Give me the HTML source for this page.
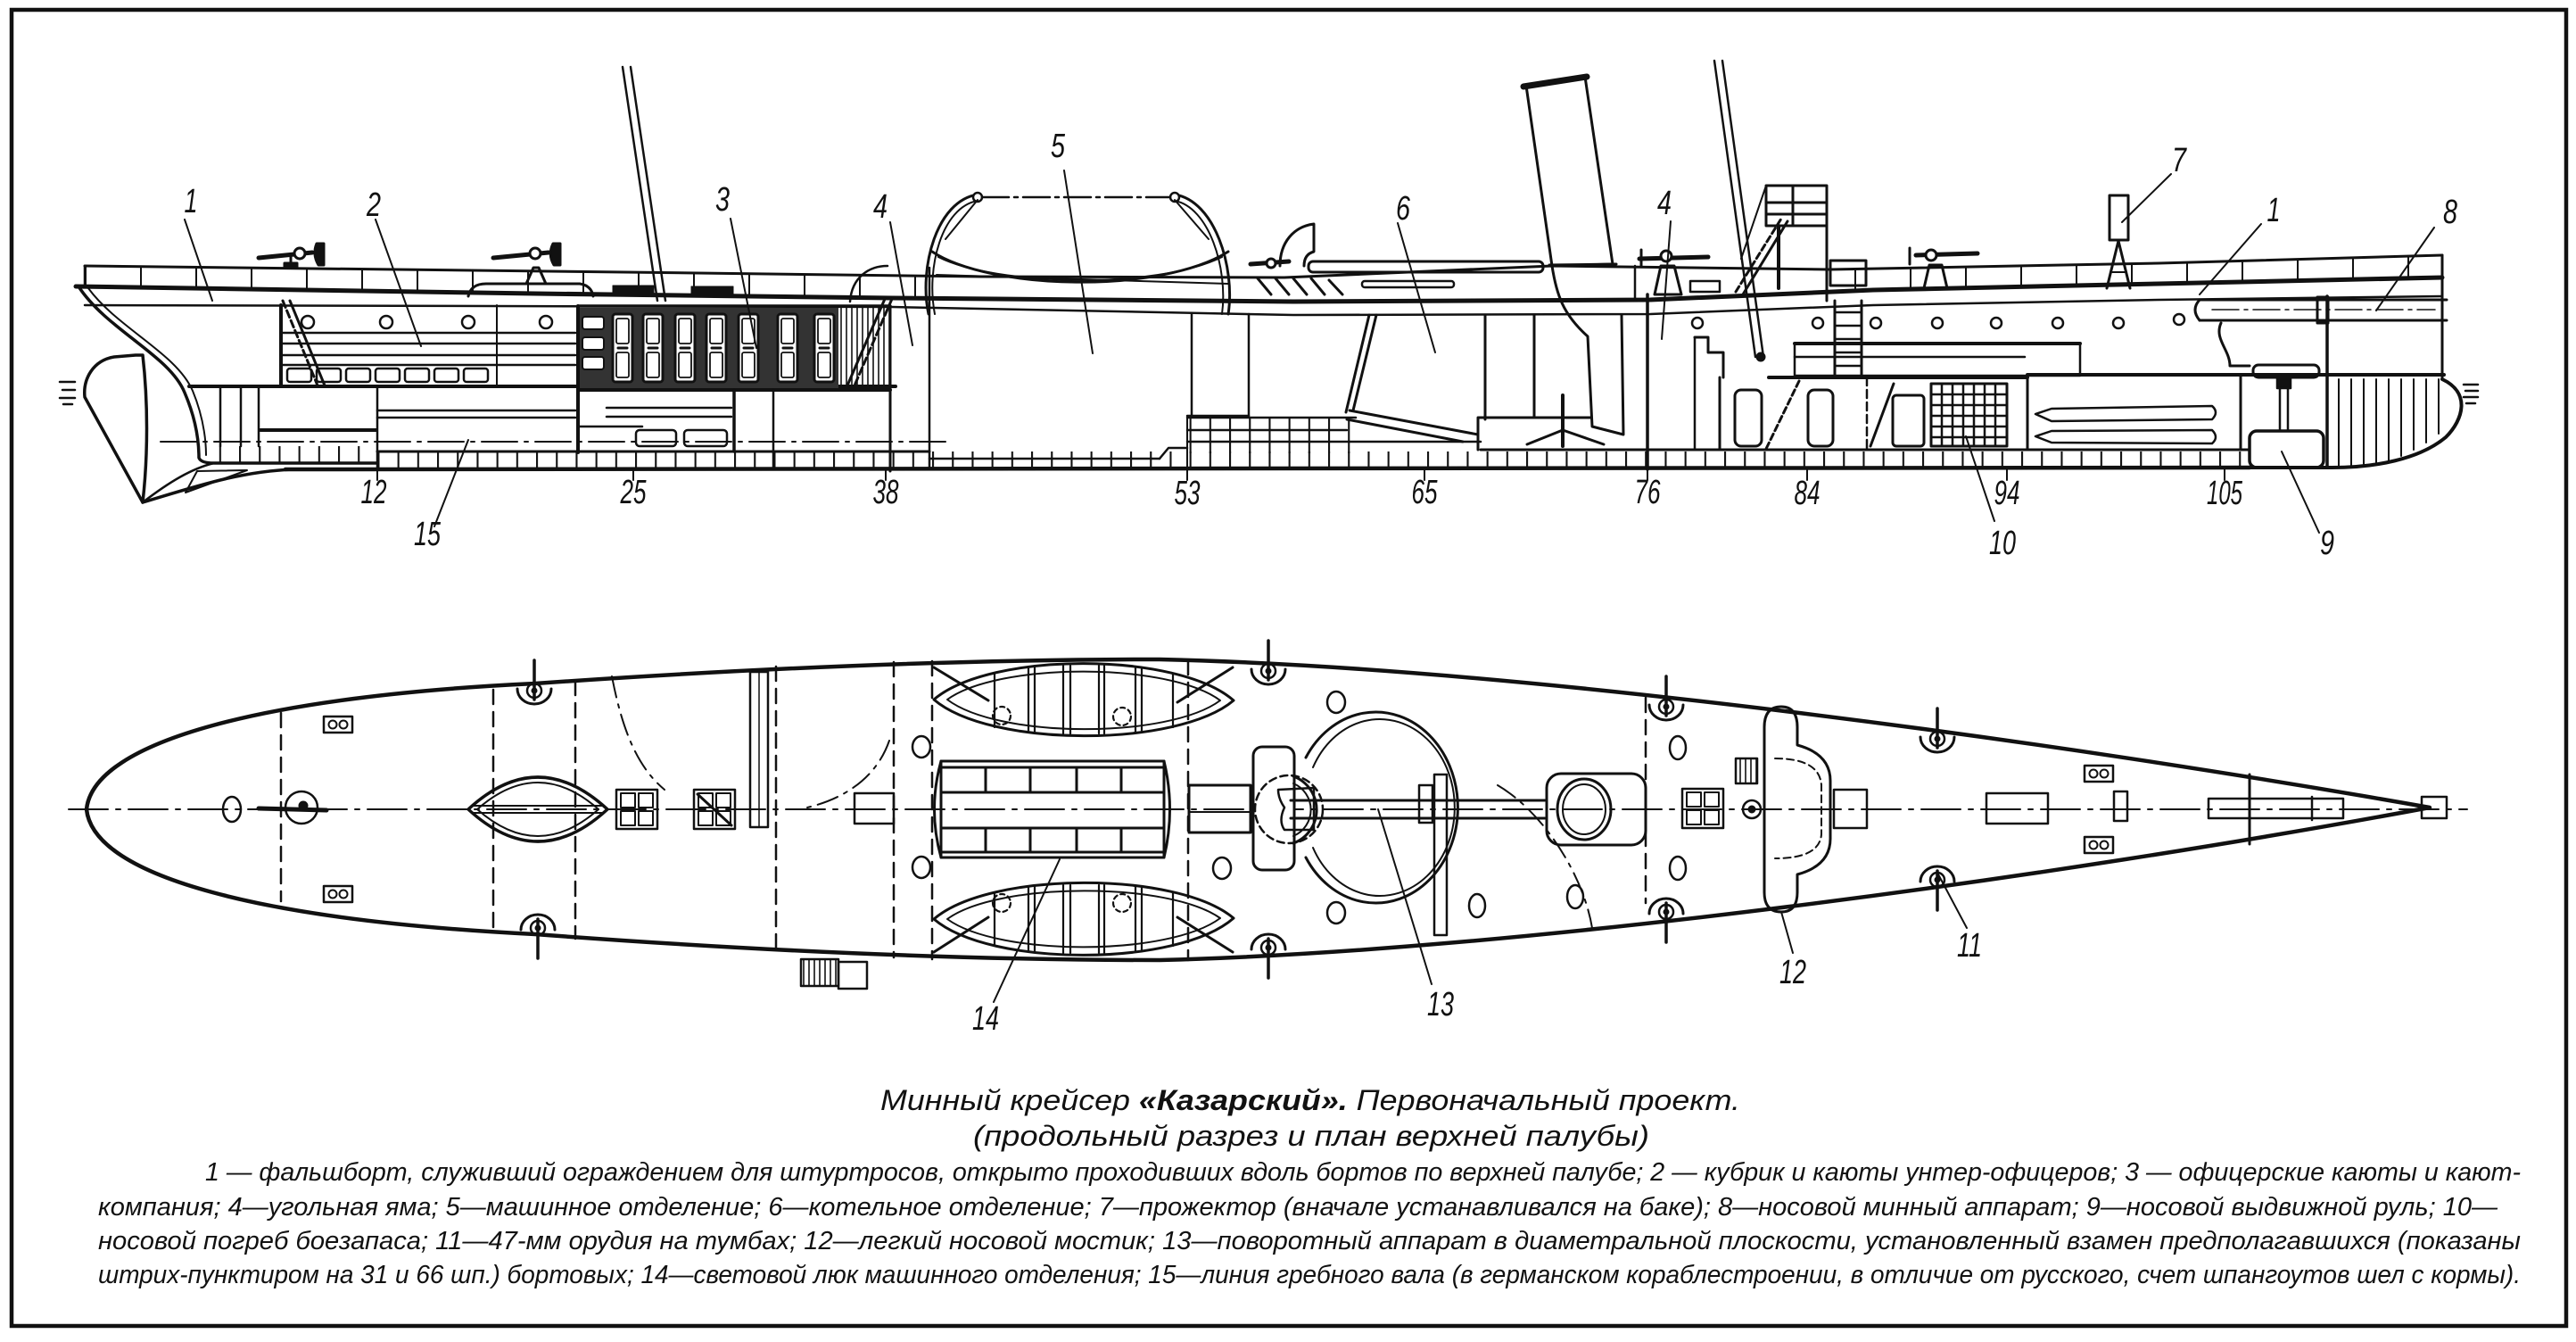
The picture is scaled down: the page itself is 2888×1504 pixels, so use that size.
<!DOCTYPE html>
<html><head><meta charset="utf-8">
<style>
html,body{margin:0;padding:0;background:#fff;}
svg{display:block;}
</style></head><body>
<svg width="2888" height="1504" viewBox="0 0 2888 1504" xmlns="http://www.w3.org/2000/svg">
<defs>
<pattern id="fr" x="157" y="0" width="22.2" height="10" patternUnits="userSpaceOnUse">
<line x1="1" y1="0" x2="1" y2="10" stroke="#111" stroke-width="2.2"/>
</pattern>
<pattern id="stan" x="95" y="0" width="62" height="10" patternUnits="userSpaceOnUse">
<line x1="1" y1="0" x2="1" y2="10" stroke="#111" stroke-width="2"/>
</pattern>
<pattern id="vh" x="0" y="0" width="6" height="10" patternUnits="userSpaceOnUse">
<line x1="1" y1="0" x2="1" y2="10" stroke="#111" stroke-width="1.6"/>
</pattern>
<g id="door">
<rect x="0" y="0" width="22" height="76" rx="3" fill="#fff" stroke="#111" stroke-width="3"/>
<rect x="4" y="5" width="14" height="28" rx="2" fill="#fff" stroke="#111" stroke-width="1.8"/>
<rect x="4" y="43" width="14" height="28" rx="2" fill="#fff" stroke="#111" stroke-width="1.8"/>
<line x1="6" y1="38" x2="16" y2="38" stroke="#111" stroke-width="3"/>
</g>
<g id="gunT">
<path d="M-19,0 A19,17 0 0 0 19,0" fill="none" stroke="#111" stroke-width="3"/>
<circle cx="0" cy="2" r="8" fill="none" stroke="#111" stroke-width="2.5"/>
<circle cx="0" cy="2" r="3" fill="#111"/>
<line x1="0" y1="-32" x2="0" y2="12" stroke="#111" stroke-width="3.5"/>
</g>
<g id="oo">
<rect x="0" y="0" width="32" height="18" fill="none" stroke="#111" stroke-width="2.5"/>
<circle cx="10" cy="9" r="4.5" fill="none" stroke="#111" stroke-width="2"/>
<circle cx="22" cy="9" r="4.5" fill="none" stroke="#111" stroke-width="2"/>
</g>
<g id="sq4">
<rect x="0" y="0" width="46" height="44" fill="none" stroke="#111" stroke-width="2.5"/>
<rect x="5" y="4" width="16" height="16" fill="none" stroke="#111" stroke-width="2"/>
<rect x="25" y="4" width="16" height="16" fill="none" stroke="#111" stroke-width="2"/>
<rect x="5" y="24" width="16" height="16" fill="none" stroke="#111" stroke-width="2"/>
<rect x="25" y="24" width="16" height="16" fill="none" stroke="#111" stroke-width="2"/>
</g>
</defs>
<rect width="2888" height="1504" fill="#fff"/>
<rect x="13" y="11" width="2864" height="1475" fill="none" stroke="#111" stroke-width="4.5"/>

<!-- ================= SIDE VIEW ================= -->
<g stroke="#111" fill="none" stroke-linecap="round" stroke-linejoin="round">
<line x1="698" y1="75" x2="737" y2="337" stroke-width="2.5"/>
<line x1="707" y1="75" x2="746" y2="337" stroke-width="2.5"/>
<line x1="1922" y1="68" x2="1968" y2="400" stroke-width="2.5"/>
<line x1="1931" y1="68" x2="1977" y2="400" stroke-width="2.5"/>
<circle cx="1974" cy="400" r="5" fill="#111"/>
<polygon points="1711,96 1777,86 1808,296 1740,298" stroke-width="3"/>
<line x1="1708" y1="97" x2="1779" y2="86" stroke-width="7"/>
<path d="M1740,298 C1745,330 1752,352 1780,377 L1785,478 L1820,487 L1818,353" stroke-width="3"/>

<polygon points="95,299 1040,309 1040,333 88,321" fill="url(#stan)" stroke="none"/>
<polygon points="2052,302 2420,295 2738,287 2738,311 2420,318 2052,326" fill="url(#stan)" stroke="none"/>
<polyline points="95,298 700,305 1100,310 1440,311 1740,298 2052,302 2420,295 2738,286" stroke-width="3"/>
<polyline points="85,321 600,329 1000,334 1450,338 1850,336 2100,325 2420,318 2738,311" stroke-width="5"/>
<polyline points="95,342 1000,344 1450,353 1850,352 2100,342 2420,336 2738,332" stroke-width="2.5"/>
<line x1="95" y1="298" x2="95" y2="321" stroke-width="2.5"/>

<path d="M88,321 C120,370 190,398 207,440 C222,475 223,500 223,513 Q225,519 240,519 L423,519" stroke-width="3.5"/>
<path d="M99,323 C132,368 198,396 216,438 C230,472 231,500 231,510" stroke-width="2"/>
<path d="M152,398 L128,400 C104,404 93,425 95,445 L160,563 C166,510 166,450 160,398 Z" stroke-width="3.5"/>
<path d="M160,563 C220,545 270,528 330,526" stroke-width="3.5"/>
<path d="M160,563 C190,540 215,525 240,519" stroke-width="2.5"/>
<polygon points="208,552 221,528 277,527" stroke-width="2"/>
<g stroke-width="2.5"><line x1="67" y1="428" x2="84" y2="428"/><line x1="70" y1="437" x2="84" y2="437"/><line x1="67" y1="446" x2="84" y2="446"/><line x1="71" y1="453" x2="81" y2="453"/></g>

<line x1="320" y1="526" x2="2522" y2="524" stroke-width="4.5"/>
<rect x="240" y="500" width="183" height="19" fill="url(#fr)" stroke="none"/>
<rect x="423" y="506" width="2099" height="19" fill="url(#fr)" stroke="none"/>
<line x1="423" y1="506" x2="1042" y2="506" stroke-width="3"/>
<line x1="1331" y1="466" x2="1331" y2="526" stroke-width="2"/>
<rect x="1331" y="468" width="190" height="40" fill="url(#fr)" stroke="none"/>
<line x1="1331" y1="468" x2="1520" y2="468" stroke-width="2.5"/>
<line x1="1331" y1="482" x2="1510" y2="482" stroke-width="2.5"/>
<line x1="1331" y1="495" x2="1660" y2="495" stroke-width="2.5"/>
<line x1="1660" y1="504" x2="2522" y2="504" stroke-width="3"/>
<g stroke-width="2"><line x1="423" y1="526" x2="423" y2="538"/><line x1="710" y1="526" x2="710" y2="538"/><line x1="993" y1="526" x2="993" y2="538"/><line x1="1331" y1="526" x2="1331" y2="538"/><line x1="1597" y1="526" x2="1597" y2="538"/><line x1="1847" y1="526" x2="1847" y2="538"/><line x1="2026" y1="526" x2="2026" y2="538"/><line x1="2250" y1="526" x2="2250" y2="538"/><line x1="2494" y1="526" x2="2494" y2="538"/></g>

<line x1="212" y1="433" x2="1004" y2="433" stroke-width="4"/>
<line x1="648" y1="437" x2="998" y2="437" stroke-width="4"/>
<g stroke-width="2.5">
<line x1="247" y1="433" x2="247" y2="500"/><line x1="270" y1="433" x2="270" y2="500"/><line x1="290" y1="433" x2="290" y2="500"/>
<line x1="292" y1="482" x2="422" y2="482" stroke-width="4"/>
<line x1="423" y1="433" x2="423" y2="526"/>
<line x1="423" y1="460" x2="645" y2="460"/><line x1="423" y1="468" x2="645" y2="468"/>
<line x1="648" y1="343" x2="648" y2="507" stroke-width="4"/>
<line x1="680" y1="457" x2="820" y2="457"/><line x1="680" y1="467" x2="820" y2="467"/><line x1="648" y1="478" x2="720" y2="478"/>
<rect x="713" y="482" width="45" height="18" rx="4"/><rect x="767" y="482" width="48" height="18" rx="4"/>
<line x1="823" y1="437" x2="823" y2="506" stroke-width="3.5"/>
<line x1="867" y1="437" x2="867" y2="526"/>
<line x1="998" y1="343" x2="998" y2="528" stroke-width="3"/>
<line x1="1042" y1="300" x2="1042" y2="526" stroke-width="2.5"/>
<line x1="1042" y1="514" x2="1300" y2="514" stroke-width="2.5"/>
<polyline points="1300,514 1310,502 1331,502" stroke-width="2.5"/>
<line x1="1336" y1="352" x2="1336" y2="466"/>
<line x1="1400" y1="352" x2="1400" y2="466"/>
<line x1="1331" y1="466" x2="1400" y2="466"/>
</g>
<line x1="180" y1="495" x2="1068" y2="495" stroke-width="2" stroke-dasharray="40 8 4 8"/>

<line x1="315" y1="342" x2="315" y2="433" stroke-width="4"/>
<line x1="557" y1="342" x2="557" y2="433" stroke-width="2"/>
<g stroke-width="2.5">
<circle cx="345" cy="361" r="7"/><circle cx="433" cy="361" r="7"/><circle cx="525" cy="361" r="7"/><circle cx="612" cy="361" r="7"/>
<line x1="315" y1="373" x2="645" y2="373"/><line x1="315" y1="385" x2="645" y2="385"/><line x1="315" y1="398" x2="645" y2="398"/><line x1="315" y1="409" x2="645" y2="409"/>
<rect x="322" y="413" width="27" height="15" rx="3"/><rect x="355" y="413" width="27" height="15" rx="3"/><rect x="388" y="413" width="27" height="15" rx="3"/><rect x="421" y="413" width="27" height="15" rx="3"/><rect x="454" y="413" width="27" height="15" rx="3"/><rect x="487" y="413" width="27" height="15" rx="3"/><rect x="520" y="413" width="27" height="15" rx="3"/>
</g>
<line x1="317" y1="337" x2="356" y2="432" stroke-width="3" stroke-dasharray="8 4"/>
<line x1="325" y1="337" x2="364" y2="432" stroke-width="3"/>

<rect x="650" y="345" width="290" height="90" fill="#333" stroke="none"/>
<rect x="653" y="355" width="24" height="14" rx="3" fill="#fff" stroke-width="2"/>
<rect x="653" y="378" width="24" height="14" rx="3" fill="#fff" stroke-width="2"/>
<rect x="653" y="400" width="24" height="14" rx="3" fill="#fff" stroke-width="2"/>
<use href="#door" x="687" y="352"/><use href="#door" x="721" y="352"/><use href="#door" x="757" y="352"/><use href="#door" x="792" y="352"/><use href="#door" x="828" y="352"/><use href="#door" x="872" y="352"/><use href="#door" x="913" y="352"/>
<rect x="940" y="345" width="58" height="90" fill="url(#vh)" stroke="none"/>
<line x1="1000" y1="335" x2="958" y2="432" stroke-width="3" stroke-dasharray="8 4"/>
<line x1="992" y1="335" x2="950" y2="432" stroke-width="3"/>
<line x1="648" y1="343" x2="998" y2="343" stroke-width="3.5"/>
<rect x="687" y="320" width="46" height="12" fill="#111"/>
<rect x="775" y="321" width="47" height="11" fill="#111"/>
<path d="M525,332 Q528,318 545,318 L650,318 Q663,320 665,332" stroke-width="3"/>
<path d="M953,338 C955,310 975,298 995,298" stroke-width="2.5"/>

<g stroke-width="3">
<line x1="290" y1="289" x2="350" y2="283" stroke-width="5"/><circle cx="336" cy="284" r="6" fill="#fff"/><path d="M355,273 Q350,285 357,297 L363,297 L363,273 Z" fill="#111"/><line x1="326" y1="288" x2="326" y2="299"/><rect x="319" y="295" width="14" height="5" fill="#111"/>
<line x1="553" y1="289" x2="615" y2="283" stroke-width="5"/><circle cx="600" cy="284" r="6" fill="#fff"/><path d="M620,273 Q614,285 621,297 L628,297 L628,273 Z" fill="#111"/><path d="M598,300 L590,318 L612,318 L604,300 Z"/>
<line x1="1402" y1="296" x2="1445" y2="293" stroke-width="5"/><circle cx="1425" cy="295" r="5" fill="#fff"/>
<line x1="1838" y1="290" x2="1915" y2="288" stroke-width="5"/><circle cx="1868" cy="287" r="6" fill="#fff"/><path d="M1840,280 L1840,298" /><path d="M1862,298 L1855,330 L1885,330 L1877,298 Z"/>
<line x1="2148" y1="286" x2="2217" y2="284" stroke-width="5"/><circle cx="2165" cy="286" r="6" fill="#fff"/><path d="M2141,278 L2141,296"/><path d="M2163,297 L2157,323 L2183,323 L2177,297 Z"/>
</g>
<path d="M1435,298 C1435,272 1450,254 1473,251 L1473,282 Q1462,285 1462,298" stroke-width="3"/>
<rect x="1467" y="293" width="263" height="12" rx="5" stroke-width="3"/>
<rect x="1527" y="315" width="103" height="7" rx="3" stroke-width="2.5"/>
<g stroke-width="3"><line x1="1410" y1="312" x2="1425" y2="330"/><line x1="1430" y1="312" x2="1445" y2="330"/><line x1="1450" y1="312" x2="1465" y2="330"/><line x1="1470" y1="312" x2="1485" y2="330"/><line x1="1490" y1="314" x2="1505" y2="330"/></g>
<line x1="1737" y1="297" x2="1812" y2="296" stroke-width="3"/>
<line x1="1833" y1="298" x2="1833" y2="337" stroke-width="2.5"/>
<rect x="1895" y="315" width="33" height="12" stroke-width="2.5"/>

<path d="M1041,352 C1030,300 1050,225 1096,218" stroke-width="3"/>
<path d="M1048,352 C1038,300 1056,232 1096,225" stroke-width="2"/>
<path d="M1317,218 C1362,225 1385,300 1377,352" stroke-width="3"/>
<path d="M1317,225 C1355,232 1377,300 1370,352" stroke-width="2"/>
<circle cx="1096" cy="221" r="5" fill="#fff" stroke-width="2.5"/><circle cx="1317" cy="221" r="5" fill="#fff" stroke-width="2.5"/>
<line x1="1101" y1="221" x2="1312" y2="221" stroke-width="2.5" stroke-dasharray="30 6 4 6"/>
<path d="M1045,282 C1110,325 1300,330 1377,282" stroke-width="3"/>
<path d="M1052,288 C1115,320 1295,325 1370,288" stroke-width="2"/>
<line x1="1096" y1="224" x2="1060" y2="268" stroke-width="2"/><line x1="1317" y1="224" x2="1355" y2="268" stroke-width="2"/>
<line x1="1050" y1="308" x2="1377" y2="318" stroke-width="2"/>

<g stroke-width="3">
<line x1="1543" y1="353" x2="1517" y2="460"/><line x1="1535" y1="353" x2="1509" y2="462"/>
<line x1="1513" y1="460" x2="1657" y2="487"/><line x1="1510" y1="470" x2="1640" y2="495"/>
<line x1="1665" y1="353" x2="1665" y2="470"/><line x1="1720" y1="353" x2="1720" y2="468"/>
<line x1="1658" y1="468" x2="1783" y2="468"/>
<line x1="1657" y1="468" x2="1657" y2="504"/>
<line x1="1847" y1="330" x2="1847" y2="526" stroke-width="3.5"/>
<line x1="1752" y1="443" x2="1752" y2="500" stroke-width="4"/>
<polyline points="1712,498 1752,482 1798,498"/>
</g>

<g stroke-width="3">
<rect x="1980" y="208" width="68" height="45"/>
<line x1="1980" y1="227" x2="2048" y2="227"/><line x1="1980" y1="240" x2="2048" y2="240"/><line x1="2010" y1="208" x2="2010" y2="253"/>
<line x1="1994" y1="253" x2="1994" y2="323" stroke-width="4"/>
<line x1="2048" y1="253" x2="2048" y2="337"/>
<rect x="2052" y="292" width="40" height="28"/>
<line x1="1946" y1="327" x2="1997" y2="245" stroke-dasharray="7 4"/>
<line x1="1954" y1="330" x2="2004" y2="248"/>
<line x1="1980" y1="208" x2="1952" y2="290" stroke-width="2"/>
</g>
<rect x="2365" y="219" width="21" height="50" stroke-width="3"/>
<polyline points="2362,323 2375,270 2388,323" stroke-width="3"/>
<line x1="2366" y1="305" x2="2384" y2="305" stroke-width="2"/>

<g stroke-width="2.5">
<circle cx="1903" cy="362" r="6"/><circle cx="2038" cy="362" r="6"/><circle cx="2103" cy="362" r="6"/><circle cx="2172" cy="362" r="6"/><circle cx="2238" cy="362" r="6"/><circle cx="2307" cy="362" r="6"/><circle cx="2375" cy="362" r="6"/><circle cx="2443" cy="358" r="6"/>
<polyline points="1900,378 1915,378 1915,395 1932,395 1932,423" stroke-width="3"/>
<line x1="1900" y1="378" x2="1900" y2="504"/>
<line x1="1928" y1="423" x2="1928" y2="504" stroke-width="3"/>
<rect x="2012" y="385" width="320" height="36" stroke-width="2.5"/>
<line x1="2012" y1="385" x2="2332" y2="385" stroke-width="4"/>
<line x1="2012" y1="400" x2="2270" y2="400"/>
<line x1="2057" y1="337" x2="2057" y2="423" stroke-width="3"/><line x1="2087" y1="337" x2="2087" y2="423" stroke-width="3"/>
<line x1="2057" y1="350" x2="2087" y2="350"/><line x1="2057" y1="365" x2="2087" y2="365"/><line x1="2057" y1="380" x2="2087" y2="380"/><line x1="2057" y1="395" x2="2087" y2="395"/><line x1="2057" y1="410" x2="2087" y2="410"/>
<line x1="1983" y1="423" x2="2273" y2="423" stroke-width="4"/>
<line x1="2273" y1="420" x2="2740" y2="420" stroke-width="4"/>
<line x1="2273" y1="420" x2="2273" y2="504" stroke-width="3"/>
<rect x="1945" y="437" width="30" height="63" rx="7" stroke-width="3"/>
<rect x="2027" y="437" width="28" height="63" rx="7" stroke-width="3"/>
<rect x="2122" y="443" width="35" height="57" rx="4" stroke-width="3"/>
<line x1="2017" y1="427" x2="1980" y2="503" stroke-dasharray="7 4" stroke-width="3"/>
<line x1="2123" y1="430" x2="2097" y2="500" stroke-width="3"/>
<line x1="2093" y1="423" x2="2093" y2="505" stroke-dasharray="9 5" stroke-width="2.5"/>
<rect x="2165" y="430" width="85" height="70" stroke-width="3"/>
<line x1="2177" y1="430" x2="2177" y2="500"/><line x1="2189" y1="430" x2="2189" y2="500"/><line x1="2201" y1="430" x2="2201" y2="500"/><line x1="2213" y1="430" x2="2213" y2="500"/><line x1="2225" y1="430" x2="2225" y2="500"/><line x1="2237" y1="430" x2="2237" y2="500"/>
<line x1="2165" y1="442" x2="2250" y2="442"/><line x1="2165" y1="454" x2="2250" y2="454"/><line x1="2165" y1="466" x2="2250" y2="466"/><line x1="2165" y1="478" x2="2250" y2="478"/><line x1="2165" y1="490" x2="2250" y2="490"/>
<path d="M2282,464 L2300,458 L2480,455 Q2488,462 2480,470 L2300,472 Z" stroke-width="2.5"/>
<path d="M2282,489 L2300,483 L2480,482 Q2488,490 2480,497 L2300,496 Z" stroke-width="2.5"/>
<line x1="2512" y1="420" x2="2512" y2="504" stroke-width="3"/>
<rect x="2522" y="483" width="83" height="41" rx="8" stroke-width="3.5"/>
<line x1="2556" y1="420" x2="2556" y2="483" stroke-width="2.5"/><line x1="2565" y1="420" x2="2565" y2="483" stroke-width="2.5"/>
<rect x="2553" y="423" width="15" height="12" fill="#111"/>
<line x1="2609" y1="332" x2="2609" y2="524" stroke-width="3.5"/>
</g>
<g stroke-width="3">
<line x1="2466" y1="336" x2="2743" y2="336"/><line x1="2466" y1="359" x2="2743" y2="359"/>
<path d="M2466,336 Q2456,347 2466,359"/>
<rect x="2598" y="333" width="12" height="29"/>
<line x1="2480" y1="347" x2="2730" y2="347" stroke-width="1.5" stroke-dasharray="30 6 4 6"/>
<path d="M2490,362 C2482,380 2500,392 2500,410 L2522,410"/>
<rect x="2526" y="409" width="74" height="14" rx="6"/>
</g>
<line x1="2738" y1="286" x2="2738" y2="425" stroke-width="3"/>
<path d="M2738,425 C2770,440 2762,470 2742,490 C2712,515 2662,524 2614,524 L2522,524" stroke-width="4"/>
<g stroke-width="2">
<line x1="2622" y1="425" x2="2622" y2="523"/><line x1="2636" y1="425" x2="2636" y2="522"/><line x1="2650" y1="425" x2="2650" y2="521"/><line x1="2664" y1="425" x2="2664" y2="519"/><line x1="2678" y1="425" x2="2678" y2="516"/><line x1="2692" y1="425" x2="2692" y2="511"/><line x1="2706" y1="425" x2="2706" y2="504"/><line x1="2720" y1="425" x2="2720" y2="496"/><line x1="2734" y1="425" x2="2734" y2="486"/>
</g>
<g stroke-width="2.5"><line x1="2762" y1="431" x2="2778" y2="431"/><line x1="2764" y1="438" x2="2778" y2="438"/><line x1="2762" y1="445" x2="2778" y2="445"/><line x1="2765" y1="452" x2="2775" y2="452"/></g>

<g stroke-width="2">
<line x1="207" y1="246" x2="238" y2="337"/>
<line x1="421" y1="246" x2="472" y2="388"/>
<line x1="819" y1="245" x2="848" y2="390"/>
<line x1="998" y1="249" x2="1023" y2="387"/>
<line x1="1193" y1="191" x2="1225" y2="396"/>
<line x1="1567" y1="250" x2="1609" y2="395"/>
<line x1="1873" y1="248" x2="1863" y2="380"/>
<line x1="2434" y1="195" x2="2379" y2="249"/>
<line x1="2535" y1="251" x2="2466" y2="330"/>
<line x1="2729" y1="255" x2="2664" y2="348"/>
<line x1="487" y1="590" x2="525" y2="493"/>
<line x1="2236" y1="584" x2="2204" y2="489"/>
<line x1="2600" y1="597" x2="2558" y2="506"/>
</g>
</g>

<!-- ================= PLAN VIEW ================= -->
<g stroke="#111" fill="none" stroke-linecap="round" stroke-linejoin="round">
<path d="M97,907 C105,830 300,780 600,766 C800,752 1050,739 1300,739 C1700,748 2300,830 2724,905 C2300,984 1700,1066 1300,1076 C1050,1076 800,1062 600,1047 C300,1032 105,984 97,907 Z" stroke-width="4.5"/>
<line x1="77" y1="907" x2="2766" y2="907" stroke-width="2" stroke-dasharray="44 9 5 9"/>
<g stroke-width="2.5" stroke-dasharray="16 9">
<line x1="315" y1="799" x2="315" y2="1010"/>
<line x1="553" y1="773" x2="553" y2="1042"/>
<line x1="645" y1="763" x2="645" y2="1052"/>
<line x1="870" y1="747" x2="870" y2="1068"/>
<line x1="1002" y1="742" x2="1002" y2="1073"/>
<line x1="1045" y1="741" x2="1045" y2="1075"/>
<line x1="1332" y1="740" x2="1332" y2="1076"/>
<line x1="1845" y1="782" x2="1845" y2="1012"/>
</g>
<path d="M686,758 C698,820 715,860 745,885" stroke-width="2" stroke-dasharray="24 8 4 8"/>
<path d="M997,830 C985,865 955,893 905,905" stroke-width="2" stroke-dasharray="24 8 4 8"/>
<path d="M1679,880 C1730,910 1775,980 1785,1040" stroke-width="2" stroke-dasharray="24 8 4 8"/>
<use href="#gunT" x="599" y="772"/>
<use href="#gunT" x="1422" y="750"/>
<use href="#gunT" x="1868" y="790"/>
<use href="#gunT" x="2172" y="826"/>
<use href="#gunT" x="603" y="1042" transform="translate(603,1042) scale(1,-1) translate(-603,-1042)"/>
<use href="#gunT" x="1422" y="1064" transform="translate(1422,1064) scale(1,-1) translate(-1422,-1064)"/>
<use href="#gunT" x="1868" y="1024" transform="translate(1868,1024) scale(1,-1) translate(-1868,-1024)"/>
<use href="#gunT" x="2172" y="988" transform="translate(2172,988) scale(1,-1) translate(-2172,-988)"/>
<ellipse cx="260" cy="907" rx="10" ry="14" stroke-width="2.5"/>
<circle cx="338" cy="905" r="18" stroke-width="2.5"/>
<line x1="290" y1="906" x2="366" y2="908" stroke-width="5"/>
<circle cx="340" cy="903" r="5" fill="#111"/>
<use href="#oo" x="363" y="803"/>
<use href="#oo" x="363" y="993"/>
<path d="M525,907 Q603,835 681,907 Q603,979 525,907 Z" stroke-width="3.5"/>
<path d="M535,907 Q603,847 671,907 Q603,967 535,907 Z" stroke-width="2"/>
<line x1="530" y1="903" x2="676" y2="903" stroke-width="2"/><line x1="530" y1="911" x2="676" y2="911" stroke-width="2"/>
<use href="#sq4" x="691" y="885"/>
<use href="#sq4" x="778" y="885"/>
<line x1="782" y1="890" x2="820" y2="925" stroke-width="3"/>
<rect x="841" y="753" width="20" height="174" stroke-width="2.5"/>
<line x1="851" y1="753" x2="851" y2="927" stroke-width="1.5"/>
<rect x="958" y="889" width="44" height="34" stroke-width="2.5"/>
<g stroke-width="3">
<path d="M1047,784 C1110,730 1320,730 1383,785 C1320,838 1110,838 1047,784 Z"/>
<path d="M1062,784 C1120,742 1310,742 1368,785 C1310,828 1120,828 1062,784 Z" stroke-width="2"/>
<path d="M1047,1030 C1110,976 1320,976 1383,1029 C1320,1084 1110,1084 1047,1030 Z"/>
<path d="M1062,1030 C1120,988 1310,988 1368,1029 C1310,1072 1120,1072 1062,1030 Z" stroke-width="2"/>
<line x1="1047" y1="748" x2="1108" y2="785"/><line x1="1382" y1="748" x2="1320" y2="787"/>
<line x1="1047" y1="1067" x2="1108" y2="1028"/><line x1="1382" y1="1067" x2="1320" y2="1028"/>
</g>
<g stroke-width="2.2">
<line x1="1115" y1="755" x2="1115" y2="815"/><line x1="1153" y1="748" x2="1153" y2="820"/><line x1="1160" y1="748" x2="1160" y2="820"/><line x1="1192" y1="746" x2="1192" y2="822"/><line x1="1200" y1="746" x2="1200" y2="822"/><line x1="1232" y1="746" x2="1232" y2="822"/><line x1="1238" y1="746" x2="1238" y2="822"/><line x1="1273" y1="748" x2="1273" y2="820"/><line x1="1280" y1="748" x2="1280" y2="820"/><line x1="1315" y1="755" x2="1315" y2="815"/>
<line x1="1115" y1="1000" x2="1115" y2="1060"/><line x1="1153" y1="994" x2="1153" y2="1066"/><line x1="1160" y1="994" x2="1160" y2="1066"/><line x1="1192" y1="992" x2="1192" y2="1068"/><line x1="1200" y1="992" x2="1200" y2="1068"/><line x1="1232" y1="992" x2="1232" y2="1068"/><line x1="1238" y1="992" x2="1238" y2="1068"/><line x1="1273" y1="994" x2="1273" y2="1066"/><line x1="1280" y1="994" x2="1280" y2="1066"/><line x1="1315" y1="1000" x2="1315" y2="1060"/>
<circle cx="1123" cy="802" r="10" stroke-dasharray="5 4"/><circle cx="1258" cy="803" r="10" stroke-dasharray="5 4"/>
<circle cx="1123" cy="1012" r="10" stroke-dasharray="5 4"/><circle cx="1258" cy="1012" r="10" stroke-dasharray="5 4"/>
</g>
<g stroke-width="3">
<rect x="1055" y="853" width="250" height="108"/>
<path d="M1055,853 Q1040,907 1055,961"/><path d="M1305,853 Q1318,907 1305,961"/>
<line x1="1055" y1="860" x2="1305" y2="860"/><line x1="1055" y1="888" x2="1305" y2="888"/><line x1="1055" y1="928" x2="1305" y2="928"/><line x1="1055" y1="955" x2="1305" y2="955"/>
<line x1="1105" y1="860" x2="1105" y2="888"/><line x1="1155" y1="860" x2="1155" y2="888"/><line x1="1207" y1="860" x2="1207" y2="888"/><line x1="1257" y1="860" x2="1257" y2="888"/>
<line x1="1105" y1="928" x2="1105" y2="955"/><line x1="1155" y1="928" x2="1155" y2="955"/><line x1="1207" y1="928" x2="1207" y2="955"/><line x1="1257" y1="928" x2="1257" y2="955"/>
</g>
<g stroke-width="2.5">
<ellipse cx="1033" cy="837" rx="10" ry="12"/><ellipse cx="1033" cy="972" rx="10" ry="12"/><ellipse cx="1370" cy="973" rx="10" ry="12"/>
<ellipse cx="1498" cy="787" rx="10" ry="12"/><ellipse cx="1498" cy="1023" rx="10" ry="12"/>
<ellipse cx="1656" cy="1015" rx="9" ry="13"/><ellipse cx="1766" cy="1005" rx="9" ry="13"/>
<ellipse cx="1881" cy="838" rx="9" ry="13"/><ellipse cx="1881" cy="973" rx="9" ry="13"/>
</g>
<rect x="1333" y="880" width="69" height="53" stroke-width="3"/>
<line x1="1333" y1="910" x2="1402" y2="910" stroke-width="2"/>
<path d="M1464,849 A92,107 0 1 1 1464,961" stroke-width="3"/>
<path d="M1472,860 A84,99 0 1 1 1472,950" stroke-width="2"/>
<rect x="1405" y="837" width="46" height="138" rx="10" stroke-width="3" fill="#fff"/>
<circle cx="1445" cy="907" r="38" stroke-width="2.5" stroke-dasharray="8 5"/>
<path d="M1450,870 A40,40 0 0 1 1450,945" stroke-width="3"/>
<path d="M1450,878 A32,32 0 0 1 1450,937" stroke-width="2"/>
<path d="M1433,885 Q1433,895 1440,905 Q1433,920 1440,930 L1473,930 L1473,883 Z" stroke-width="2.5"/>
<line x1="1447" y1="897" x2="1732" y2="897" stroke-width="3"/><line x1="1447" y1="917" x2="1732" y2="917" stroke-width="3"/>
<rect x="1591" y="880" width="15" height="42" stroke-width="2.5"/>
<rect x="1608" y="868" width="14" height="180" stroke-width="2.5"/>
<rect x="1734" y="867" width="111" height="80" rx="16" stroke-width="3"/>
<ellipse cx="1776" cy="907" rx="30" ry="34" stroke-width="3"/>
<ellipse cx="1776" cy="907" rx="24" ry="28" stroke-width="2"/>
<use href="#sq4" x="1886" y="884"/>
<circle cx="1964" cy="907" r="10" stroke-width="2.5"/><circle cx="1964" cy="907" r="4" fill="#111"/>
<rect x="1946" y="850" width="24" height="28" fill="url(#vh)" stroke-width="2.5"/>
<path d="M1997,792 Q1978,792 1978,815 L1978,1000 Q1978,1022 1997,1022 Q2015,1022 2015,1000 L2015,980 Q2052,970 2052,940 L2052,875 Q2052,845 2015,835 L2015,815 Q2015,792 1997,792 Z" stroke-width="3"/>
<path d="M1990,850 Q2040,850 2042,880 L2042,935 Q2040,962 1990,962" stroke-width="2" stroke-dasharray="8 5"/>
<rect x="2056" y="885" width="37" height="43" stroke-width="2.5"/>
<rect x="2227" y="889" width="69" height="34" stroke-width="2.5"/>
<rect x="2370" y="887" width="15" height="33" stroke-width="2.5"/>
<use href="#oo" x="2337" y="858"/>
<use href="#oo" x="2337" y="938"/>
<line x1="2522" y1="868" x2="2522" y2="946" stroke-width="3"/>
<rect x="2476" y="895" width="151" height="22" stroke-width="2.5"/>
<line x1="2592" y1="893" x2="2592" y2="919" stroke-width="2.5"/>
<rect x="2715" y="893" width="28" height="24" stroke-width="2.5"/>
<rect x="898" y="1075" width="42" height="30" fill="url(#vh)" stroke-width="2.5"/>
<rect x="940" y="1078" width="32" height="30" stroke-width="2.5"/>
<g stroke-width="2">
<line x1="1188" y1="963" x2="1114" y2="1123"/>
<line x1="1545" y1="907" x2="1605" y2="1103"/>
<line x1="1997" y1="1022" x2="2010" y2="1068"/>
<line x1="2172" y1="978" x2="2205" y2="1040"/>
</g>
</g>

<!-- ================= LABELS ================= -->
<g font-family="'Liberation Sans', 'DejaVu Sans', sans-serif" font-style="italic" font-size="38" fill="#111" text-anchor="middle">
<text x="214" y="238" textLength="15" lengthAdjust="spacingAndGlyphs">1</text>
<text x="419" y="242" textLength="16" lengthAdjust="spacingAndGlyphs">2</text>
<text x="810" y="236" textLength="16" lengthAdjust="spacingAndGlyphs">3</text>
<text x="987" y="244" textLength="16" lengthAdjust="spacingAndGlyphs">4</text>
<text x="1186" y="176" textLength="16" lengthAdjust="spacingAndGlyphs">5</text>
<text x="1573" y="246" textLength="16" lengthAdjust="spacingAndGlyphs">6</text>
<text x="1866" y="240" textLength="16" lengthAdjust="spacingAndGlyphs">4</text>
<text x="2443" y="192" textLength="16" lengthAdjust="spacingAndGlyphs">7</text>
<text x="2549" y="248" textLength="15" lengthAdjust="spacingAndGlyphs">1</text>
<text x="2747" y="250" textLength="16" lengthAdjust="spacingAndGlyphs">8</text>
<text x="479" y="611" textLength="30" lengthAdjust="spacingAndGlyphs">15</text>
<text x="2245" y="621" textLength="30" lengthAdjust="spacingAndGlyphs">10</text>
<text x="2609" y="621" textLength="16" lengthAdjust="spacingAndGlyphs">9</text>
<text x="419" y="564" textLength="29" lengthAdjust="spacingAndGlyphs">12</text>
<text x="710" y="564" textLength="29" lengthAdjust="spacingAndGlyphs">25</text>
<text x="993" y="564" textLength="29" lengthAdjust="spacingAndGlyphs">38</text>
<text x="1331" y="565" textLength="29" lengthAdjust="spacingAndGlyphs">53</text>
<text x="1597" y="564" textLength="29" lengthAdjust="spacingAndGlyphs">65</text>
<text x="1847" y="564" textLength="29" lengthAdjust="spacingAndGlyphs">76</text>
<text x="2026" y="565" textLength="29" lengthAdjust="spacingAndGlyphs">84</text>
<text x="2250" y="565" textLength="29" lengthAdjust="spacingAndGlyphs">94</text>
<text x="2494" y="565" textLength="40" lengthAdjust="spacingAndGlyphs">105</text>
<text x="1105" y="1154" textLength="30" lengthAdjust="spacingAndGlyphs">14</text>
<text x="1615" y="1138" textLength="30" lengthAdjust="spacingAndGlyphs">13</text>
<text x="2010" y="1102" textLength="30" lengthAdjust="spacingAndGlyphs">12</text>
<text x="2208" y="1072" textLength="28" lengthAdjust="spacingAndGlyphs">11</text>
</g>

<!-- ================= CAPTION ================= -->
<g font-family="'Liberation Sans', 'DejaVu Sans', sans-serif" font-style="italic" fill="#111">
<text x="987" y="1244" font-size="32" textLength="964" lengthAdjust="spacingAndGlyphs">Минный крейсер <tspan font-weight="bold">«Казарский».</tspan> Первоначальный проект.</text>
<text x="1091" y="1284" font-size="32" textLength="758" lengthAdjust="spacingAndGlyphs">(продольный разрез и план верхней палубы)</text>
<text x="230" y="1323" font-size="29" textLength="2596" lengthAdjust="spacingAndGlyphs">1 — фальшборт, служивший ограждением для штуртросов, открыто проходивших вдоль бортов по верхней палубе; 2 — кубрик и каюты унтер-офицеров; 3 — офицерские каюты и кают-</text>
<text x="110" y="1362" font-size="29" textLength="2690" lengthAdjust="spacingAndGlyphs">компания; 4—угольная яма; 5—машинное отделение; 6—котельное отделение; 7—прожектор (вначале устанавливался на баке); 8—носовой минный аппарат; 9—носовой выдвижной руль; 10—</text>
<text x="110" y="1400" font-size="29" textLength="2716" lengthAdjust="spacingAndGlyphs">носовой погреб боезапаса; 11—47-мм орудия на тумбах; 12—легкий носовой мостик; 13—поворотный аппарат в диаметральной плоскости, установленный взамен предполагавшихся (показаны</text>
<text x="110" y="1438" font-size="29" textLength="2716" lengthAdjust="spacingAndGlyphs">штрих-пунктиром на 31 и 66 шп.) бортовых; 14—световой люк машинного отделения; 15—линия гребного вала (в германском кораблестроении, в отличие от русского, счет шпангоутов шел с кормы).</text>
</g>
</svg>
</body></html>
